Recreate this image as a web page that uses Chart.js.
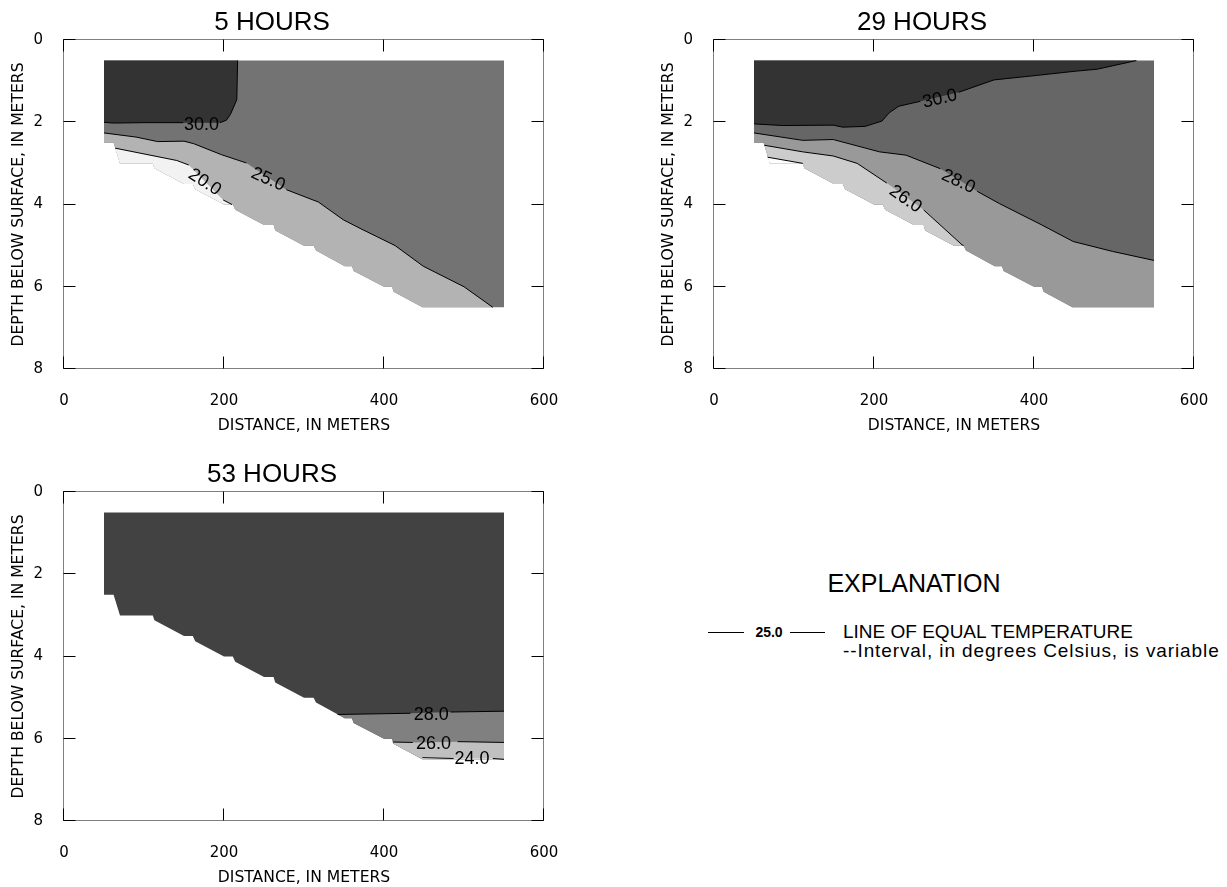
<!DOCTYPE html>
<html>
<head>
<meta charset="utf-8">
<script src="https://cdn.jsdelivr.net/npm/chart.js"></script>
<style>
html,body{margin:0;padding:0;background:#fff;}
body{width:1227px;height:887px;overflow:hidden;position:relative;font-family:"Liberation Sans",Arial,sans-serif;color:#000;}
.wrap{position:absolute;}
.abs{position:absolute;white-space:nowrap;}
.dash{position:absolute;height:0;border-top:1px solid #000;}
</style>
</head>
<body>
<div class="wrap" style="left:0px;top:0px"><canvas id="c5" width="608" height="435"></canvas></div>
<div class="wrap" style="left:650px;top:0px"><canvas id="c29" width="608" height="435"></canvas></div>
<div class="wrap" style="left:0px;top:452px"><canvas id="c53" width="608" height="435"></canvas></div>

<div class="abs" style="left:814px;width:200px;top:569px;text-align:center;font-size:25px;line-height:28px;">EXPLANATION</div>
<div class="dash" style="left:708px;width:36px;top:632px;"></div>
<div class="abs" style="left:746px;width:46px;top:624px;text-align:center;font-size:14px;font-weight:bold;line-height:17px;">25.0</div>
<div class="dash" style="left:790px;width:35px;top:632px;"></div>
<div class="abs" style="left:843px;top:621px;font-size:19px;line-height:22px;">LINE OF EQUAL TEMPERATURE</div>
<div class="abs" style="left:843px;top:640px;font-size:19px;line-height:22px;letter-spacing:0.9px;">--Interval, in degrees Celsius, is variable</div>

<script>
// ---------- axes ----------
const xTicks = [0, 200, 400, 600];
const yTicks = [0, 2, 4, 6, 8];
const xTitle = 'DISTANCE, IN METERS';
const yTitle = 'DEPTH BELOW SURFACE, IN METERS';

// ---------- channel cross-section (distance m, depth m) ----------
const surfD = 0.5;
const leftX = 50, rightX = 550;
const bedX = [50, 62, 70, 111, 113, 150, 161, 164, 200, 211, 214, 250, 262, 264, 300, 312, 315, 351, 360, 362, 400, 410, 412, 448, 550];
const bedD = [2.5, 2.5, 3.0, 3.0, 3.12, 3.5, 3.5, 3.63, 4.0, 4.0, 4.13, 4.5, 4.5, 4.63, 5.0, 5.0, 5.12, 5.5, 5.5, 5.62, 6.0, 6.0, 6.12, 6.5, 6.5];

// ---------- 5 HOURS ----------
const h5_c30X = [50, 61, 99, 149, 195, 203, 208, 216, 217];
const h5_c30D = [2.0, 2.02, 2.01, 2.01, 2.01, 1.95, 1.81, 1.45, 0.5];
const h5_c25X = [50, 90, 117, 150, 162, 197, 228, 278, 318, 349, 370, 414, 449, 500, 536];
const h5_c25D = [2.26, 2.36, 2.47, 2.46, 2.52, 2.79, 2.99, 3.64, 3.94, 4.37, 4.58, 5.0, 5.5, 6.0, 6.5];
const h5_c20X = [64, 141, 156, 199, 210];
const h5_c20D = [2.63, 2.93, 3.04, 3.89, 4.0];
const h5_labelText = ['30.0', '25.0', '20.0'];
const h5_labelX = [172, 255.6, 176.5];
const h5_labelD = [2.04, 3.37, 3.44];
const h5_labelAngle = [0, 24, 33];

// ---------- 29 HOURS ----------
const h29_c30X = [50, 86, 149, 161, 189, 210, 219, 231, 258, 306, 350, 404, 451, 479, 528];
const h29_c30D = [2.04, 2.08, 2.07, 2.12, 2.10, 1.97, 1.77, 1.61, 1.49, 1.27, 0.97, 0.86, 0.76, 0.71, 0.5];
const h29_c28X = [50, 111, 149, 207, 240, 283, 329, 357, 409, 449, 498, 550];
const h29_c28D = [2.26, 2.44, 2.42, 2.72, 2.8, 3.13, 3.68, 3.98, 4.49, 4.9, 5.14, 5.36];
const h29_c26X = [63, 111, 149, 179, 216, 262, 310, 312];
const h29_c26D = [2.56, 2.72, 2.82, 3.0, 3.48, 4.13, 4.98, 5.0];
const h29_c24X = [67, 111];
const h29_c24D = [2.85, 3.0];
const h29_labelText = ['30.0', '28.0', '26.0'];
const h29_labelX = [282, 306, 240];
const h29_labelD = [1.41, 3.42, 3.85];
const h29_labelAngle = [-13, 25, 35];

// ---------- 53 HOURS ----------
const h53_c28X = [342, 433, 483, 550];
const h53_c28D = [5.41, 5.38, 5.35, 5.33];
const h53_c26X = [411, 436, 492, 550];
const h53_c26D = [6.08, 6.09, 6.07, 6.09];
const h53_c24X = [448, 487, 536, 550];
const h53_c24D = [6.46, 6.48, 6.48, 6.5];
const h53_labelText = ['28.0', '26.0', '24.0'];
const h53_labelX = [459, 462, 510];
const h53_labelD = [5.41, 6.1, 6.48];
const h53_labelAngle = [0, 0, 0];

// ---------- helpers ----------
function pts(X, D) { return X.map((x, i) => ({x: x, y: D[i]})); }
function bedBetween(x0, x1) {
  const out = [];
  for (let i = bedX.length - 1; i >= 0; i--) {
    if (bedX[i] >= x0 && bedX[i] <= x1) out.push({x: bedX[i], y: bedD[i]});
  }
  return out;
}
const water = [{x: leftX, y: surfD}, {x: rightX, y: surfD}].concat(bedBetween(leftX, rightX));
function below(X, D) { return pts(X, D).concat(bedBetween(X[0], X[X.length - 1])); }
function above(X, D) { return pts(X, D).concat([{x: X[0], y: surfD}]); }
function line(X, D, gapAfter) {
  const p = pts(X, D);
  if (gapAfter == null) return p;
  const out = p.slice(0, gapAfter + 1);
  out.push({x: (X[gapAfter] + X[gapAfter + 1]) / 2, y: null});
  return out.concat(p.slice(gapAfter + 1));
}
function labels(T, X, D, A) { return T.map((t, i) => ({t: t, x: X[i], d: D[i], a: A[i]})); }

function framePlugin(lbls) {
  return {
    id: 'frameAndLabels',
    afterDatasetsDraw(chart) {
      const ctx = chart.ctx, a = chart.chartArea, xs = chart.scales.x, ys = chart.scales.y;
      ctx.save();
      // contour labels
      ctx.fillStyle = '#000';
      ctx.font = '18px "Liberation Sans", Arial, sans-serif';
      ctx.textAlign = 'center';
      ctx.textBaseline = 'middle';
      lbls.forEach(l => {
        ctx.save();
        ctx.translate(xs.getPixelForValue(l.x), ys.getPixelForValue(l.d));
        ctx.rotate(l.a * Math.PI / 180);
        ctx.fillText(l.t, 0, 1);
        ctx.restore();
      });
      // frame
      const L = Math.round(a.left) - 0.5, R = Math.round(a.right) - 0.5;
      const T = Math.round(a.top) - 0.5, B = Math.round(a.bottom) - 0.5;
      ctx.strokeStyle = '#808080';
      ctx.lineWidth = 1;
      ctx.strokeRect(L, T, R - L, B - T);
      // inward ticks
      ctx.strokeStyle = '#000';
      ctx.beginPath();
      const tl = 12;
      xs.ticks.forEach(t => {
        const px = Math.round(xs.getPixelForValue(t.value)) - 0.5;
        ctx.moveTo(px, T); ctx.lineTo(px, T + tl);
        ctx.moveTo(px, B); ctx.lineTo(px, B - tl);
      });
      ys.ticks.forEach(t => {
        const py = Math.round(ys.getPixelForValue(t.value)) - 0.5;
        ctx.moveTo(L, py); ctx.lineTo(L + tl, py);
        ctx.moveTo(R, py); ctx.lineTo(R - tl, py);
      });
      ctx.stroke();
      ctx.restore();
    }
  };
}

function makeChart(id, title, layers, lines, lbls) {
  const datasets = [];
  const n = layers.length + lines.length;
  let k = 0;
  layers.forEach(l => datasets.push({
    data: l.pts, fill: 'shape', backgroundColor: l.color, borderColor: 'rgba(0,0,0,0)',
    borderWidth: 1, pointRadius: 0, tension: 0, order: n - (k++)
  }));
  lines.forEach(l => datasets.push({
    data: l, fill: false, borderColor: '#000', borderWidth: 1, pointRadius: 0,
    tension: 0, spanGaps: false, order: n - (k++)
  }));
  const tickFont = {family: '"DejaVu Sans", sans-serif', size: 15};
  const titleFont = {family: '"DejaVu Sans", sans-serif', size: 15.6, lineHeight: 1.2};
  return new Chart(document.getElementById(id), {
    type: 'line',
    data: {datasets: datasets},
    options: {
      responsive: false,
      animation: false,
      events: [],
      layout: {padding: {left: 0, right: 64, top: 0, bottom: 0}},
      plugins: {
        legend: {display: false},
        tooltip: {enabled: false},
        title: {
          display: true, text: title, color: '#000',
          font: {family: '"Liberation Sans", Arial, sans-serif', size: 26, weight: 'normal', lineHeight: 1.2},
          padding: {top: 7, bottom: 1.8}
        }
      },
      scales: {
        x: {
          type: 'linear', min: 0, max: 600,
          afterBuildTicks: s => { s.ticks = xTicks.map(v => ({value: v})); },
          afterFit: s => { s.height = 66; },
          grid: {display: false, drawTicks: false},
          border: {display: false},
          ticks: {padding: 23.5, color: '#000', font: tickFont, maxRotation: 0},
          title: {display: true, text: xTitle, color: '#000', font: titleFont, padding: {top: 0, bottom: 0}}
        },
        y: {
          type: 'linear', min: 0, max: 8, reverse: true,
          afterBuildTicks: s => { s.ticks = yTicks.map(v => ({value: v})); },
          afterFit: s => { s.width = 64; },
          grid: {display: false, drawTicks: false},
          border: {display: false},
          ticks: {padding: 21, color: '#000', font: tickFont},
          title: {display: true, text: yTitle, color: '#000', font: titleFont, padding: {top: 9.2, bottom: 0}}
        }
      }
    },
    plugins: [framePlugin(lbls)]
  });
}

makeChart('c5', '5 HOURS',
  [
    {pts: water, color: '#737373'},
    {pts: above(h5_c30X, h5_c30D), color: '#333333'},
    {pts: below(h5_c25X, h5_c25D), color: '#b3b3b3'},
    {pts: below(h5_c20X, h5_c20D), color: '#f2f2f2'}
  ],
  [line(h5_c30X, h5_c30D, 3), line(h5_c25X, h5_c25D, 6), line(h5_c20X, h5_c20D, 2)],
  labels(h5_labelText, h5_labelX, h5_labelD, h5_labelAngle));

makeChart('c29', '29 HOURS',
  [
    {pts: water, color: '#666666'},
    {pts: above(h29_c30X, h29_c30D), color: '#333333'},
    {pts: below(h29_c28X, h29_c28D), color: '#999999'},
    {pts: below(h29_c26X, h29_c26D), color: '#cccccc'},
    {pts: below(h29_c24X, h29_c24D), color: '#ffffff'}
  ],
  [line(h29_c30X, h29_c30D, 8), line(h29_c28X, h29_c28D, 5), line(h29_c26X, h29_c26D, 4), line(h29_c24X, h29_c24D)],
  labels(h29_labelText, h29_labelX, h29_labelD, h29_labelAngle));

makeChart('c53', '53 HOURS',
  [
    {pts: water, color: '#424242'},
    {pts: below(h53_c28X, h53_c28D), color: '#808080'},
    {pts: below(h53_c26X, h53_c26D), color: '#c0c0c0'},
    {pts: below(h53_c24X, h53_c24D), color: '#f0f0f0'}
  ],
  [line(h53_c28X, h53_c28D, 1), line(h53_c26X, h53_c26D, 1), line(h53_c24X, h53_c24D, 1)],
  labels(h53_labelText, h53_labelX, h53_labelD, h53_labelAngle));
</script>
</body>
</html>
